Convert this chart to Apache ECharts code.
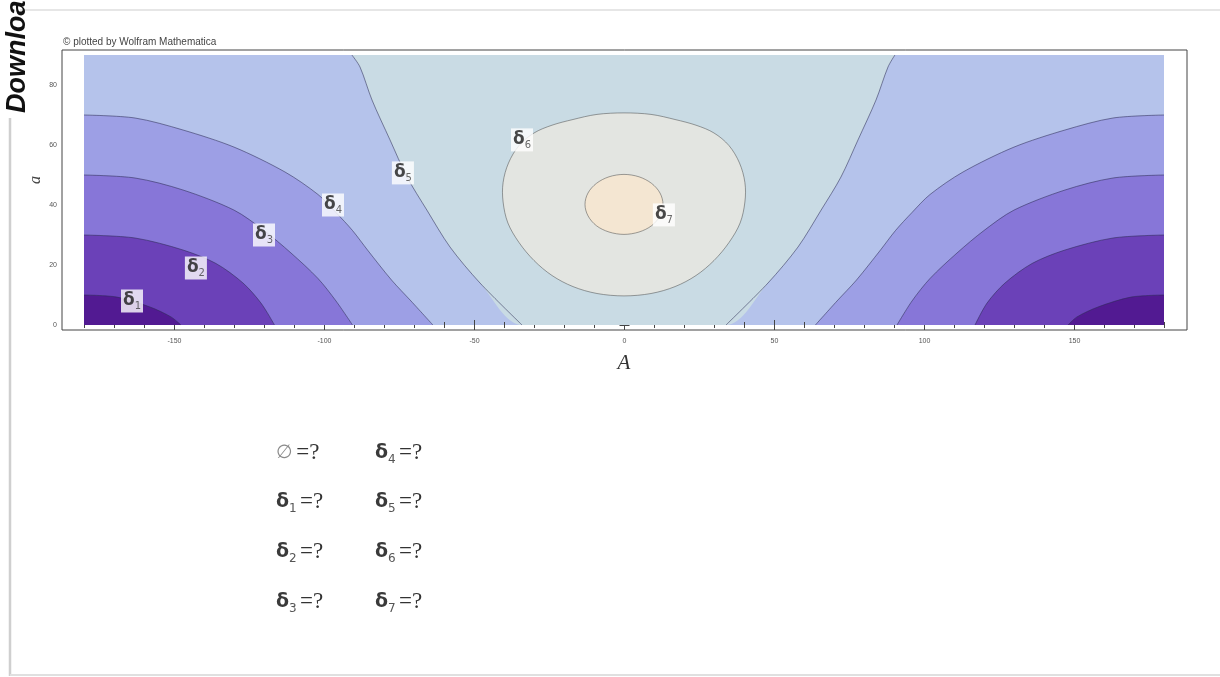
<!DOCTYPE html>
<html>
<head>
<meta charset="utf-8">
<script src="https://cdn.jsdelivr.net/npm/echarts@6/dist/echarts.min.js"></script>
<style>html,body{margin:0;padding:0;background:#fff}#c{width:1220px;height:677px}</style>
</head>
<body>
<div id="c"></div>
<script>
// ---- tick labels ----
const xMajorTicks = [-150, -100, -50, 0, 50, 100, 150];
const xMinorTicks = [-180,-170,-160,-140,-130,-120,-110,-90,-80,-70,-60,-40,-30,-20,-10,10,20,30,40,60,70,80,90,110,120,130,140,160,170,180];
const yMajorTicks = [0, 20, 40, 60, 80];
const yMinorTicks = [5,10,15,25,30,35,45,50,55,65,70,75,85,90];

// ---- contour boundaries: [A, a] ----
const delta1Left  = [[-180,10],[-169,9.3],[-158,6],[-151,2.7],[-147.7,0]];
const delta2Left  = [[-180,30],[-163,29],[-147,25],[-136,20.5],[-127,14],[-121,7.3],[-116.5,0]];
const delta3Left  = [[-180,50],[-163,49],[-147,45],[-130,38.3],[-120,31.5],[-111,24],[-102,15.5],[-96,8],[-90.5,0]];
const delta4Left  = [[-180,70],[-163,69],[-147,65],[-130,59.3],[-113,51],[-102,43.5],[-96,37.5],[-90.5,31.5],[-85.5,25],[-77.5,15],[-71,8],[-63.7,0]];
const delta5Left  = [[-90.7,90],[-88,86],[-84,75],[-78,61.7],[-72.3,49.3],[-65.7,38.3],[-58,26],[-48,14],[-34,0]];
const delta5Right = [[34,0],[48,14],[58,26],[65.7,38.3],[72.3,49.3],[78,61.7],[84,75],[88,86],[90.3,90]];
const delta4Right = [[63.8,0],[71,8],[77.5,15],[85.5,25],[90.5,31.5],[96,37.5],[102,43.5],[113,51],[130,59.3],[147,65],[163,69],[180,70]];
const delta3Right = [[91,0],[96,8],[102,15.5],[111,24],[120,31.5],[130,38.3],[147,45],[163,49],[180,50]];
const delta2Right = [[117,0],[121,7.3],[127,14],[136,20.5],[147,25],[163,29],[180,30]];
const delta1Right = [[148,0],[151,2.7],[158,6],[169,9.3],[180,10]];
const delta6Loop  = [[0,70.7],[-9,70.2],[-17,68.5],[-24,66.6],[-30,64],[-35,59.8],[-38.5,54],[-40.3,47.5],[-40.3,41],[-38.7,34],[-35,27.5],[-30,21.5],[-24,16.5],[-17,12.8],[-9,10.5],[0,9.7],
                     [9,10.5],[17,12.8],[24,16.5],[30,21.5],[35,27.5],[38.7,34],[40.3,41],[40.3,47.5],[38.5,54],[35,59.8],[30,64],[24,66.6],[17,68.5],[9,70.2]];
const delta7Loop  = [[0,50.2],[-5,49.4],[-9.2,47.2],[-12,44],[-13,40.2],[-12,36.4],[-9.2,33.1],[-5,31],[0,30.2],
                     [5,31],[9.2,33.1],[12,36.4],[13,40.2],[12,44],[9.2,47.2],[5,49.4]];

// ---- contour label positions [A, a, index] ----
const contourLabels = [[-164,8,'1'],[-142.7,19,'2'],[-120,30,'3'],[-97,40,'4'],[-73.7,50.7,'5'],[-34,61.7,'6'],[13.3,36.7,'7']];

// ---- legend below the chart ----
const legendSymbols = ['∅','δ','δ','δ','δ','δ','δ','δ'];
const legendSubs    = ['','1','2','3','4','5','6','7'];
const legendValues  = ['?','?','?','?','?','?','?','?'];

const C = {
  band45: '#b5c3eb', band34: '#9d9fe5', band23: '#8776d8', band12: '#6b41b8', in1: '#521a92',
  center: '#c9dbe4', in6: '#e3e5e1', in7: '#f4e6d2'
};
const lineCol = 'rgba(45,45,85,0.55)';

function areaSeries(data, color, z, origin, stroke) {
  return {
    type: 'line', xAxisIndex: 0, yAxisIndex: 0, data: data, smooth: 0.3, symbol: 'none',
    silent: true, z: z, clip: true, animation: false,
    lineStyle: stroke ? { color: lineCol, width: 1 } : { width: 0, opacity: 0 },
    areaStyle: { color: color, opacity: 1, origin: origin }
  };
}
function strokeSeries(data, z) {
  return {
    type: 'line', xAxisIndex: 0, yAxisIndex: 0, data: data, smooth: 0.3, symbol: 'none',
    silent: true, z: z, clip: true, animation: false,
    lineStyle: { color: lineCol, width: 1 }
  };
}
// closed contour: pixel coordinates from the axes, drawn as a smooth closed curve
function loopSeries(points, color, z) {
  return {
    type: 'custom', coordinateSystem: 'cartesian2d', xAxisIndex: 0, yAxisIndex: 0,
    silent: true, z: z, clip: true, animation: false,
    data: [[points[0][0], points[0][1]]],
    renderItem: function (params, api) {
      const p = points.map(q => api.coord(q));
      const n = p.length;
      let d = 'M' + p[0][0] + ' ' + p[0][1];
      for (let i = 0; i < n; i++) {
        const p0 = p[(i - 1 + n) % n], p1 = p[i], p2 = p[(i + 1) % n], p3 = p[(i + 2) % n];
        const c1x = p1[0] + (p2[0] - p0[0]) / 6, c1y = p1[1] + (p2[1] - p0[1]) / 6;
        const c2x = p2[0] - (p3[0] - p1[0]) / 6, c2y = p2[1] - (p3[1] - p1[1]) / 6;
        d += 'C' + c1x + ' ' + c1y + ' ' + c2x + ' ' + c2y + ' ' + p2[0] + ' ' + p2[1];
      }
      d += 'Z';
      return {
        type: 'path',
        shape: { pathData: d },
        style: { fill: color, stroke: 'rgba(70,70,70,0.5)', lineWidth: 1 }
      };
    }
  };
}

const tickStyle = { color: '#444', width: 1 };
function frameX(grid, pos, ticks, len, labels) {
  return {
    type: 'value', gridIndex: grid, min: -187.5, max: 187.5, position: pos,
    axisLine: { show: false }, splitLine: { show: false },
    axisTick: { show: true, inside: true, length: len, lineStyle: tickStyle, customValues: ticks },
    axisLabel: labels ? { show: true, customValues: ticks, fontSize: 7, color: '#555', margin: 8, fontFamily: 'Liberation Sans' } : { show: false }
  };
}
function frameY(grid, pos, ticks, len, labels) {
  return {
    type: 'value', gridIndex: grid, min: -1.6667, max: 91.6667, position: pos,
    axisLine: { show: false }, splitLine: { show: false },
    axisTick: { show: true, inside: true, length: len, lineStyle: tickStyle, customValues: ticks },
    axisLabel: labels ? { show: true, customValues: ticks, fontSize: 7, color: '#555', margin: 5, fontFamily: 'Liberation Sans' } : { show: false }
  };
}

const legendGraphics = [];
legendSymbols.forEach((sym, i) => {
  const col = i < 4 ? 0 : 1;
  const row = i % 4;
  const x = col === 0 ? 276 : 375;
  const y = [453, 502, 552, 602][row];
  const text = sym === '∅'
    ? '{o|∅} {e|=' + legendValues[i] + '}'
    : '{d|δ}{s|' + legendSubs[i] + '} {e|=' + legendValues[i] + '}';
  legendGraphics.push({
    type: 'text', x: x, y: y, silent: true,
    style: {
      text: text, align: 'left', verticalAlign: 'middle',
      rich: {
        o: { fontFamily: 'DejaVu Serif', fontSize: 19, fill: '#8a8a8a', lineHeight: 26 },
        d: { fontFamily: 'DejaVu Sans', fontWeight: 'bold', fontSize: 19, fill: '#3a3a3a', lineHeight: 26 },
        s: { fontFamily: 'DejaVu Sans', fontSize: 12, fill: '#555', lineHeight: 12, verticalAlign: 'bottom' },
        e: { fontFamily: 'Liberation Serif', fontSize: 23, fill: '#333', lineHeight: 26 }
      }
    }
  });
});

const chart = echarts.init(document.getElementById('c'), null, { renderer: 'canvas' });
chart.setOption({
  animation: false,
  backgroundColor: '#fff',
  grid: [
    { left: 84, top: 55, width: 1080, height: 270, show: true, backgroundColor: C.band45, borderWidth: 0 },
    { left: 62, top: 50, width: 1125, height: 280, show: true, backgroundColor: 'rgba(0,0,0,0)', borderColor: '#444', borderWidth: 1 },
    { left: 62, top: 50, width: 1125, height: 280, show: false }
  ],
  xAxis: [
    { type: 'value', gridIndex: 0, min: -180, max: 180, show: false },
    frameX(1, 'bottom', xMajorTicks, 5, true),
    frameX(1, 'top', xMajorTicks, 5, false),
    frameX(2, 'bottom', xMinorTicks, 3, false),
    frameX(2, 'top', xMinorTicks, 3, false)
  ],
  yAxis: [
    { type: 'value', gridIndex: 0, min: 0, max: 90, show: false },
    frameY(1, 'left', yMajorTicks, 5, true),
    frameY(1, 'right', yMajorTicks, 5, false),
    frameY(2, 'left', yMinorTicks, 3, false),
    frameY(2, 'right', yMinorTicks, 3, false)
  ],
  series: [
    areaSeries(delta5Left.concat(delta5Right), C.center, 2, 'end', false),
    strokeSeries(delta5Left, 3),
    strokeSeries(delta5Right, 3),
    areaSeries(delta4Left, C.band34, 4, 'start', true),
    areaSeries(delta4Right, C.band34, 4, 'start', true),
    areaSeries(delta3Left, C.band23, 5, 'start', true),
    areaSeries(delta3Right, C.band23, 5, 'start', true),
    areaSeries(delta2Left, C.band12, 6, 'start', true),
    areaSeries(delta2Right, C.band12, 6, 'start', true),
    areaSeries(delta1Left, C.in1, 7, 'start', true),
    areaSeries(delta1Right, C.in1, 7, 'start', true),
    loopSeries(delta6Loop, C.in6, 8),
    loopSeries(delta7Loop, C.in7, 9),
    {
      type: 'scatter', xAxisIndex: 0, yAxisIndex: 0, silent: true, z: 12, animation: false,
      symbolSize: 1, itemStyle: { color: 'rgba(0,0,0,0)' },
      data: contourLabels.map(l => ({ value: [l[0], l[1]], sub: l[2] })),
      label: {
        show: true, position: 'inside', backgroundColor: '#fff', padding: [1, 2, 1, 2],
        formatter: p => '{d|δ}{s|' + p.data.sub + '}',
        rich: {
          d: { fontFamily: 'DejaVu Sans', fontWeight: 'bold', fontSize: 17, color: '#1a1a1a', lineHeight: 21 },
          s: { fontFamily: 'DejaVu Sans', fontSize: 10, color: '#444', lineHeight: 10, verticalAlign: 'bottom' }
        }
      }
    }
  ],
  graphic: [
    { type: 'line', silent: true, shape: { x1: 20, y1: 10, x2: 1220, y2: 10 }, style: { stroke: '#e6e6e6', lineWidth: 2 } },
    { type: 'line', silent: true, shape: { x1: 10, y1: 118, x2: 10, y2: 676 }, style: { stroke: '#cfcfcf', lineWidth: 2.5 } },
    { type: 'line', silent: true, shape: { x1: 10, y1: 675, x2: 1220, y2: 675 }, style: { stroke: '#e0e0e0', lineWidth: 2 } },
    { type: 'text', x: 31, y: 113, rotation: Math.PI / 2, silent: true,
      style: { text: 'Downloa', align: 'left', verticalAlign: 'bottom', fontFamily: 'Liberation Sans', fontSize: 27, fontWeight: 'bold', fontStyle: 'italic', fill: '#111' } },
    { type: 'text', x: 63, y: 42.5, silent: true,
      style: { text: '© plotted by Wolfram Mathematica', align: 'left', verticalAlign: 'middle', fontFamily: 'Liberation Sans', fontSize: 10, fill: '#444' } },
    { type: 'text', x: 624, y: 363, silent: true,
      style: { text: 'A', align: 'center', verticalAlign: 'middle', fontFamily: 'Liberation Serif', fontSize: 21, fontStyle: 'italic', fill: '#333' } },
    { type: 'text', x: 36, y: 180, rotation: Math.PI / 2, silent: true,
      style: { text: 'a', align: 'center', verticalAlign: 'middle', fontFamily: 'Liberation Serif', fontSize: 16, fontStyle: 'italic', fill: '#444' } }
  ].concat(legendGraphics)
});
</script>
</body>
</html>
